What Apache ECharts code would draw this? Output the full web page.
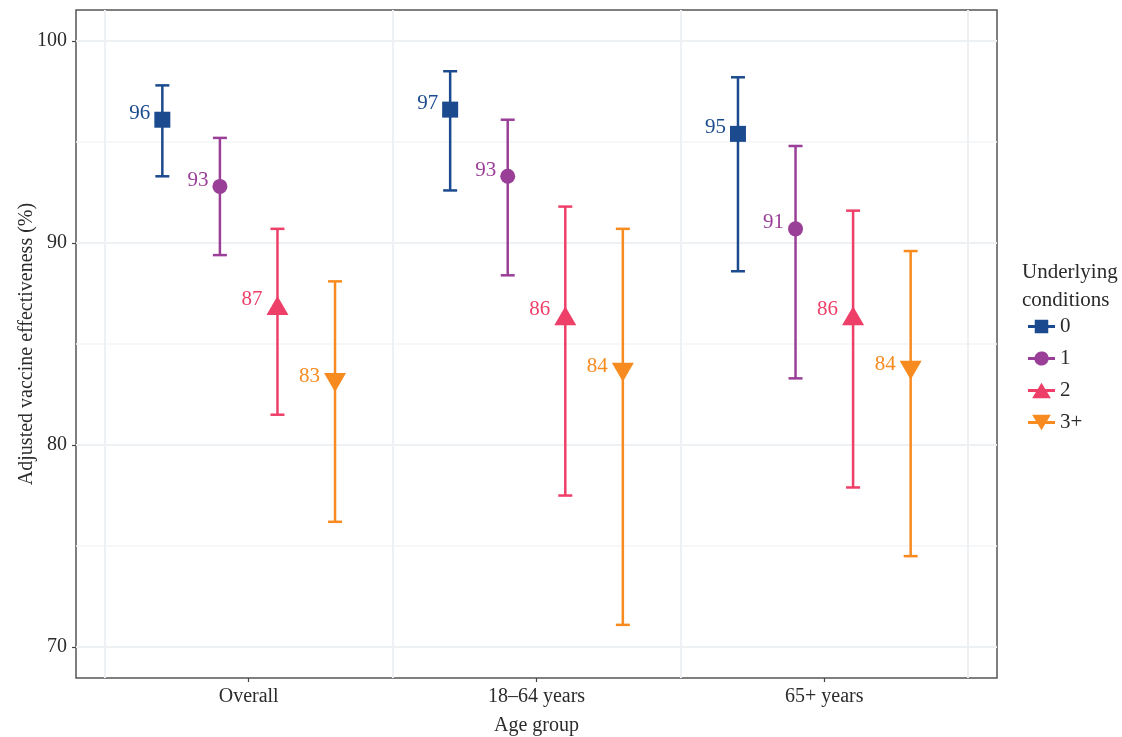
<!DOCTYPE html>
<html>
<head>
<meta charset="utf-8">
<script src="https://cdn.jsdelivr.net/npm/echarts@6/dist/echarts.min.js"></script>
<style>
html, body { margin: 0; background: #fff; }
#chart { width: 1122px; height: 737px; }
</style>
</head>
<body>
<div id="chart"></div>
<script>
// age groups on the x axis and the four underlying-condition groups
var ageGroups = ['Overall', '18–64 years', '65+ years'];
var conditions = ['0', '1', '2', '3+'];

// adjusted VE estimates and 95% CI, one array per condition group
var est0 = [96.1, 96.6, 95.4];
var low0 = [93.3, 92.6, 88.6];
var high0 = [97.8, 98.5, 98.2];

var est1 = [92.8, 93.3, 90.7];
var low1 = [89.4, 88.4, 83.3];
var high1 = [95.2, 96.1, 94.8];

var est2 = [86.9, 86.4, 86.4];
var low2 = [81.5, 77.5, 77.9];
var high2 = [90.7, 91.8, 91.6];

var est3 = [83.1, 83.6, 83.7];
var low3 = [76.2, 71.1, 74.5];
var high3 = [88.1, 90.7, 89.6];

var yTicks = [70, 80, 90, 100];
var yMinor = [75, 85, 95];

var estimates = [est0, est1, est2, est3];
var lows = [low0, low1, low2, low3];
var highs = [high0, high1, high2, high3];

var colors = ['#1b4b8e', '#9a3f97', '#ee3f69', '#f78b20'];
var dodge = [-0.3, -0.1, 0.1, 0.3];
var symbols = ['rect', 'circle', 'triangle', 'triangle'];
var symbolSizes = [16, 15, [22, 19], [22, 19]];
var symbolRotates = [0, 0, 0, 180];
var legendIcons = [
	'path://M0,8.5H6.5V3.5H19.5V8.5H26V11.5H19.5V16.5H6.5V11.5H0Z',
	'path://M0,8.5H6.2A7,7 0 0 1 19.8,8.5H26V11.5H19.8A7,7 0 0 1 6.2,11.5H0Z',
	'path://M0,8.5H9.4L13,2.5L16.6,8.5H26V11.5H18.4L22,17.5H4L7.6,11.5H0Z',
	'path://M4,2.5H22L18.4,8.5H26V11.5H16.6L13,17.5L9.4,11.5H0V8.5H7.6Z'
];

var font = "'Liberation Serif', 'DejaVu Serif', serif";
var textColor = '#2b2b2b';

var myChart = echarts.init(document.getElementById('chart'));

var series = [];
conditions.forEach(function (c, g) {
	var barData = [];
	var pointData = [];
	ageGroups.forEach(function (a, i) {
		var x = i + 1 + dodge[g];
		barData.push([x, lows[g][i], highs[g][i]]);
		pointData.push([x, estimates[g][i]]);
	});
	series.push({
		name: c,
		type: 'custom',
		data: barData,
		encode: { x: 0, y: [1, 2] },
		itemStyle: { color: colors[g] },
		z: 2,
		renderItem: function (params, api) {
			var x = api.value(0);
			var top = api.coord([x, api.value(2)]);
			var bot = api.coord([x, api.value(1)]);
			var w = 7;
			var st = { stroke: colors[g], lineWidth: 2.5 };
			return {
				type: 'group',
				children: [
					{ type: 'line', shape: { x1: top[0], y1: top[1], x2: bot[0], y2: bot[1] }, style: st },
					{ type: 'line', shape: { x1: top[0] - w, y1: top[1], x2: top[0] + w, y2: top[1] }, style: st },
					{ type: 'line', shape: { x1: bot[0] - w, y1: bot[1], x2: bot[0] + w, y2: bot[1] }, style: st }
				]
			};
		}
	});
	series.push({
		name: c,
		type: 'scatter',
		data: pointData,
		symbol: symbols[g],
		symbolSize: symbolSizes[g],
		symbolRotate: symbolRotates[g],
		itemStyle: { color: colors[g], opacity: 1 },
		z: 3,
		label: {
			show: true,
			position: 'left',
			distance: 4,
			offset: [0, -6],
			color: colors[g],
			fontFamily: font,
			fontSize: 21,
			formatter: function (p) { return Math.round(p.value[1]); }
		}
	});
});

option = {
	backgroundColor: '#fff',
	animation: false,
	title: {
		text: 'Underlying\nconditions',
		left: 1022,
		top: 258,
		padding: 0,
		textStyle: { fontFamily: font, fontSize: 21, fontWeight: 'normal', color: textColor, lineHeight: 28 }
	},
	legend: {
		orient: 'vertical',
		left: 1028,
		top: 316,
		padding: 0,
		itemWidth: 27,
		itemHeight: 20,
		itemGap: 11,
		selectedMode: false,
		textStyle: { fontFamily: font, fontSize: 21, color: textColor },
		data: conditions.map(function (c, g) {
			return { name: c, icon: legendIcons[g], itemStyle: { color: colors[g] } };
		})
	},
	grid: {
		left: 76,
		right: 125,
		top: 10,
		bottom: 59,
		show: true,
		borderColor: '#555',
		borderWidth: 1.5,
		containLabel: false,
		outerBoundsMode: 'none'
	},
	xAxis: [{
		type: 'value',
		min: 0.4,
		max: 3.6,
		name: 'Age group',
		nameLocation: 'middle',
		nameGap: 38,
		nameMoveOverlap: false,
		nameTextStyle: { fontFamily: font, fontSize: 20, color: textColor },
		axisLine: { show: false },
		axisTick: { show: true, length: 4, customValues: [1, 2, 3], lineStyle: { color: '#444', width: 1.2 } },
		axisLabel: {
			customValues: [1, 2, 3],
			margin: 9,
			fontFamily: font,
			fontSize: 20,
			color: textColor,
			formatter: function (v) { return ageGroups[Math.round(v) - 1]; }
		},
		splitLine: { show: false }
	}, {
		type: 'value',
		min: 0.4,
		max: 3.6,
		position: 'bottom',
		axisLine: { show: false },
		axisTick: { show: false, customValues: [0.5, 1.5, 2.5, 3.5] },
		axisLabel: { show: false, customValues: [0.5, 1.5, 2.5, 3.5] },
		splitLine: { show: true, lineStyle: { color: '#eef1f3', width: 2 } }
	}],
	yAxis: [{
		type: 'value',
		min: 68.47,
		max: 101.53,
		name: 'Adjusted vaccine effectiveness (%)',
		nameLocation: 'middle',
		nameGap: 39,
		nameMoveOverlap: false,
		nameTextStyle: { fontFamily: font, fontSize: 20, color: textColor },
		axisLine: { show: false },
		axisTick: { show: true, length: 4, customValues: yTicks, lineStyle: { color: '#444', width: 1.2 } },
		axisLabel: { customValues: yTicks, margin: 9, fontFamily: font, fontSize: 20, color: textColor },
		splitLine: { show: true, lineStyle: { color: '#eef1f3', width: 2 } }
	}, {
		type: 'value',
		min: 68.47,
		max: 101.53,
		position: 'left',
		axisLine: { show: false },
		axisTick: { show: false, customValues: yMinor },
		axisLabel: { show: false, customValues: yMinor },
		splitLine: { show: true, lineStyle: { color: '#f3f5f6', width: 1.5 } }
	}],
	series: series
};
myChart.setOption(option);
</script>
</body>
</html>
